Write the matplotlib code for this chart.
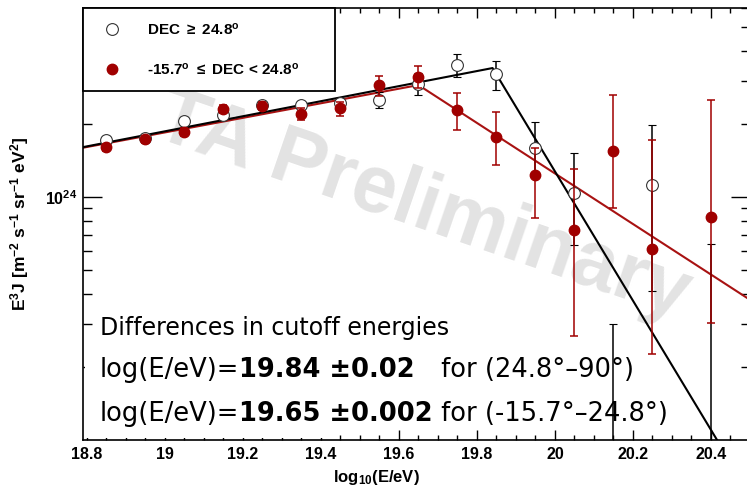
import numpy as np
import matplotlib
matplotlib.use('Agg')
import matplotlib.pyplot as plt
from matplotlib.lines import Line2D
from matplotlib.patches import Rectangle
from matplotlib.ticker import MultipleLocator, LogLocator, NullFormatter, FixedLocator

plt.rcParams['font.family'] = ['Liberation Sans', 'DejaVu Sans']
plt.rcParams['mathtext.default'] = 'regular'

## E^3 J values, in units of 1e24 m^-2 s^-1 sr^-1 eV^2
scale = 1e24

# DEC >= 24.8 (open circles); last two bins fall below the frame
logE_north = [18.85, 18.95, 19.05, 19.15, 19.25, 19.35, 19.45, 19.55, 19.65,
              19.75, 19.85, 19.95, 20.05, 20.15, 20.25, 20.40]
flux_north = [1.717, 1.749, 2.055, 2.175, 2.391, 2.391, 2.437, 2.507, 2.917,
              3.493, 3.208, 1.591, 1.039, 0.060, 1.120, 0.050]
lo_north = [1.65, 1.68, 1.98, 2.09, 2.30, 2.30, 2.34, 2.32, 2.63,
            3.12, 2.76, 1.27, 0.635, 0.010, 0.410, 0.010]
hi_north = [1.78, 1.82, 2.13, 2.26, 2.49, 2.49, 2.53, 2.70, 3.24,
            3.88, 3.63, 2.04, 1.52, 0.300, 1.98, 0.641]

# -15.7 <= DEC < 24.8 (filled red circles)
logE_south = [18.85, 18.95, 19.05, 19.15, 19.25, 19.35, 19.45, 19.55, 19.65,
              19.75, 19.85, 19.95, 20.05, 20.15, 20.25, 20.40]
flux_south = [1.606, 1.733, 1.851, 2.302, 2.368, 2.196, 2.324, 2.890, 3.118,
              2.280, 1.766, 1.232, 0.731, 1.547, 0.611, 0.827]
lo_south = [1.55, 1.67, 1.78, 2.22, 2.28, 2.074, 2.154, 2.603, 2.810,
            1.887, 1.354, 0.820, 0.268, 0.901, 0.226, 0.303]
hi_south = [1.66, 1.79, 1.92, 2.39, 2.46, 2.324, 2.46, 3.147, 3.460,
            2.679, 2.238, 1.591, 1.304, 2.630, 1.717, 2.507]

## broken power law fits: break log10(E), log10(E^3 J) at break, slopes below/above
fit_north = dict(brk=19.84, level=24.531, s1=0.31, s2=-2.66)
fit_south = dict(brk=19.65, level=24.461, s1=0.30, s2=-1.04)

xlim = (18.79, 20.50)
ylim = (1e23, 6e24)

red = '#a00000'
red_line = '#a81212'


def broken_line(fit, xmin, xmax):
    x = np.array([xmin, fit['brk'], xmax])
    y = np.where(x < fit['brk'],
                 fit['level'] + fit['s1'] * (x - fit['brk']),
                 fit['level'] + fit['s2'] * (x - fit['brk']))
    return x, 10 ** y


def errs(flux, lo, hi):
    f = np.array(flux) * scale
    return f, [f - np.array(lo) * scale, np.array(hi) * scale - f]


fig = plt.figure(figsize=(7.47, 4.88), dpi=100)
ax = fig.add_axes([83 / 747, 48 / 488, 667 / 747, 432 / 488])
ax.set_yscale('log')
ax.set_xlim(*xlim)
ax.set_ylim(*ylim)

## watermark
ax.text(0.51, 0.54, 'TA Preliminary', transform=ax.transAxes, rotation=-19,
        fontsize=58, fontweight='bold', color='#e3e3e3', ha='center', va='center',
        zorder=0)

## fits
xs, ys = broken_line(fit_south, *xlim)
ax.plot(xs, ys, color=red_line, lw=1.5, zorder=2)
xn, yn = broken_line(fit_north, *xlim)
ax.plot(xn, yn, color='black', lw=1.5, zorder=2.1)

## data
f, e = errs(flux_north, lo_north, hi_north)
ax.errorbar(logE_north, f, yerr=e, fmt='o', ms=8.5, mfc='white', mec='#333333',
            mew=0.8, ecolor='black', elinewidth=1.1, capsize=2.8, capthick=1.1,
            zorder=3)
f, e = errs(flux_south, lo_south, hi_south)
ax.errorbar(logE_south, f, yerr=e, fmt='o', ms=7.5, mfc=red, mec=red,
            ecolor=red, elinewidth=1.1, capsize=2.8, capthick=1.1, zorder=3.2)

## axes styling
ax.xaxis.set_minor_locator(MultipleLocator(0.05))
ax.set_xticks(np.arange(18.8, 20.41, 0.2))
ax.set_xticklabels(['18.8', '19', '19.2', '19.4', '19.6', '19.8', '20', '20.2', '20.4'])
ax.yaxis.set_major_locator(FixedLocator([1e24]))
ax.set_yticklabels([r'$10^{24}$'])
ax.yaxis.set_minor_locator(LogLocator(base=10, subs=np.arange(2, 10)))
ax.yaxis.set_minor_formatter(NullFormatter())

ax.tick_params(axis='both', which='both', direction='in', top=True, right=True,
               width=1.0, labelsize=11.5)
ax.tick_params(axis='x', which='major', length=7, pad=5)
ax.tick_params(axis='x', which='minor', length=3.6)
ax.tick_params(axis='y', which='major', length=14, pad=4)
ax.tick_params(axis='y', which='minor', length=6.5)
for lab in ax.get_xticklabels() + ax.get_yticklabels():
    lab.set_fontweight('bold')
for sp in ax.spines.values():
    sp.set_linewidth(1.2)

ax.set_xlabel(r'log$_{10}$(E/eV)', fontsize=12, fontweight='bold', labelpad=1)
ax.xaxis.set_label_coords(0.44, -0.065)
ax.set_ylabel(r'E$^3$J [m$^{-2}$ s$^{-1}$ sr$^{-1}$ eV$^2$]', fontsize=12.5,
              fontweight='bold')
ax.yaxis.set_label_coords(-0.078, 0.50)

## legend
handles = [Line2D([], [], ls='none', marker='o', ms=8.5, mfc='white', mec='#333333', mew=0.8),
           Line2D([], [], ls='none', marker='o', ms=7.5, mfc=red, mec=red)]
labels = [r'DEC $\geq$ 24.8$^{o}$', r'-15.7$^{o}$ $\leq$ DEC < 24.8$^{o}$']
leg = ax.legend(handles, labels, loc='upper left', mode='expand',
                bbox_to_anchor=(0, 1 - 0.187, 0.378, 0.187), borderaxespad=0,
                fancybox=False, framealpha=1, edgecolor='black', borderpad=0.9,
                labelspacing=1.55, handlelength=2.0, handletextpad=1.3,
                prop={'weight': 'bold', 'size': 11})
leg.get_frame().set_linewidth(1.3)
leg.set_zorder(6)

## white text box hiding the ticks in the lower left
ax.add_patch(Rectangle((0.003, 0.004), 0.375, 0.225, transform=ax.transAxes,
                       facecolor='white', edgecolor='none', zorder=4))

## annotation text
txt_font = ['DejaVu Sans']
ax.text(0.0255, 0.243, 'Differences in cutoff energies', transform=ax.transAxes,
        fontsize=17, family=txt_font, va='baseline', zorder=5)

renderer = fig.canvas.get_renderer()
inv = ax.transAxes.inverted()


def put_parts(x, y, parts, fixed_last=None):
    starts = []
    for i, (s, w) in enumerate(parts):
        if fixed_last is not None and i == len(parts) - 1:
            x = fixed_last
        starts.append(x)
        t = ax.text(x, y, s, transform=ax.transAxes, fontsize=18.5, family=txt_font,
                    fontweight=w, va='baseline', zorder=5)
        bb = t.get_window_extent(renderer)
        x = inv.transform((bb.x1, bb.y0))[0]
    return starts


pos = put_parts(0.0255, 0.044, [('log(E/eV)=', 'normal'), ('19.65 \u00b10.002', 'bold'),
                                (' for (-15.7\u00b0\u201324.8\u00b0)', 'normal')])
put_parts(0.0255, 0.146, [('log(E/eV)=', 'normal'), ('19.84 \u00b10.02', 'bold'),
                          (' for (24.8\u00b0\u201390\u00b0)', 'normal')], fixed_last=pos[2])

fig.savefig('out.png', dpi=100)
